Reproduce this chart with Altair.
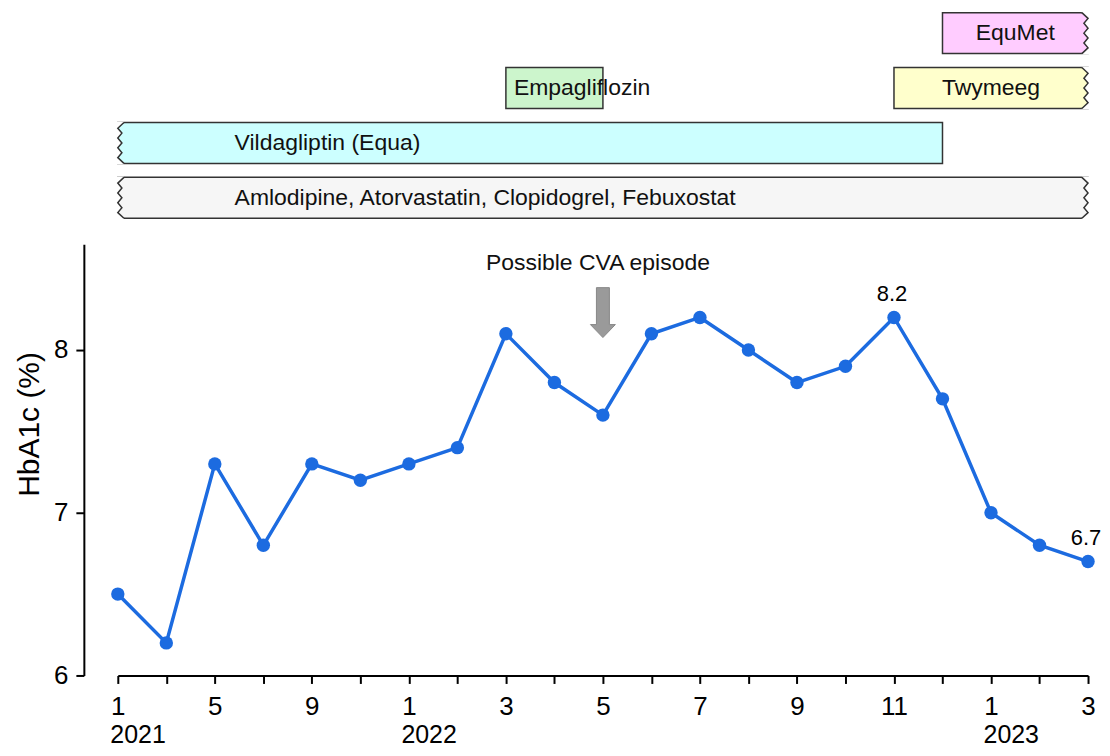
import altair as alt
import pandas as pd

# ---------------- data ----------------
# measurement positions (equally spaced on the axis) and their month / year
point_pos = list(range(21))
point_month = [1, 3, 5, 7, 9, 11, 1, 2, 3, 4, 5, 6, 7, 8, 9, 10, 11, 12, 1, 2, 3]
point_year = [2021] * 6 + [2022] * 12 + [2023] * 3
hba1c = [6.5, 6.2, 7.3, 6.8, 7.3, 7.2, 7.3, 7.4, 8.1, 7.8, 7.6,
         8.1, 8.2, 8.0, 7.8, 7.9, 8.2, 7.7, 7.0, 6.8, 6.7]

# tick labels shown under the axis
x_tick_labels = ["1", "", "5", "", "9", "", "1", "", "3", "", "5",
                 "", "7", "", "9", "", "11", "", "1", "", "3"]
year_label_pos = [0, 6, 18]
year_label_text = ["2021", "2022", "2023"]

y_ticks = [6, 7, 8]

# annotated values
labeled_pos = [16, 20]

# possible CVA episode annotation
cva_pos = [10]
cva_arrow_level = [8.23]
cva_text_level = [8.535]
cva_text = ["Possible CVA episode"]

# medication bars
drug_names = ["EquMet", "Twymeeg", "Empagliflozin", "Vildagliptin (Equa)",
              "Amlodipine, Atorvastatin, Clopidogrel, Febuxostat"]
drug_row = [0, 1, 1, 2, 3]
drug_start = [17, 16, 8, 0, 0]
drug_end = [20, 20, 10, 17, 20]
drug_fill = ["#ffccff", "#ffffcc", "#ccf5cc", "#ccffff", "#f6f6f6"]
drug_cont_before = [False, False, False, True, True]
drug_cont_after = [True, True, False, False, True]
drug_label_mode = ["center", "center", "start", "inset", "inset"]

# ---------------- tables ----------------
hb = pd.DataFrame({"pos": point_pos, "month": point_month,
                   "year": point_year, "hba1c": hba1c})
hb["label"] = hb["hba1c"].map(lambda v: f"{v:.1f}")
hb["show"] = hb["pos"].isin(labeled_pos)

drugs = pd.DataFrame({"name": drug_names, "row": drug_row,
                      "start": drug_start, "end": drug_end,
                      "fill": drug_fill, "before": drug_cont_before,
                      "after": drug_cont_after, "mode": drug_label_mode})

cva = pd.DataFrame({"pos": cva_pos, "arrow": cva_arrow_level,
                    "tlevel": cva_text_level, "text": cva_text})

BLUE = "#1c6be0"
DARK = "#333333"
FONT = "Liberation Sans"

xs = alt.Scale(domain=[0, 20], nice=False, zero=False)
ys = alt.Scale(domain=[6, 8.65], nice=False, zero=False)

# ---------------- top panel: medication bars ----------------
ys_top = alt.Scale(domain=[0, 1, 2, 3], paddingInner=14 / 55, paddingOuter=0)

LEFT_ZIG = "M0.3,-1 L0,-0.72 L0.2,-0.48 L0,-0.24 L0.2,0 L0,0.24 L0.2,0.48 L0,0.72 L0.3,1"
LEFT_COVER = ("M-0.3,-1.04 L0.3,-1.04 L0.3,-1 L0,-0.72 L0.2,-0.48 L0,-0.24 L0.2,0 "
              "L0,0.24 L0.2,0.48 L0,0.72 L0.3,1 L0.3,1.04 L-0.3,1.04 Z")
RIGHT_ZIG = "M-0.3,-1 L0,-0.72 L-0.2,-0.48 L0,-0.24 L-0.2,0 L0,0.24 L-0.2,0.48 L0,0.72 L-0.3,1"
RIGHT_COVER = ("M0.3,-1.04 L-0.3,-1.04 L-0.3,-1 L0,-0.72 L-0.2,-0.48 L0,-0.24 L-0.2,0 "
               "L0,0.24 L-0.2,0.48 L0,0.72 L-0.3,1 L-0.3,1.04 L0.3,1.04 Z")
SYM = 41 * 41

base_top = alt.Chart(drugs).encode(y=alt.Y("row:O", scale=ys_top, axis=None))

rects = base_top.mark_rect(stroke=DARK, strokeWidth=1.5).encode(
    x=alt.X("start:Q", scale=xs, axis=None),
    x2="end:Q",
    fill=alt.Fill("fill:N", scale=None),
)

left_cover = base_top.transform_filter("datum.before").mark_point(
    shape=LEFT_COVER, filled=True, color="white", strokeWidth=0, size=SYM, opacity=1
).encode(x=alt.X("start:Q", scale=xs, axis=None))
left_zig = base_top.transform_filter("datum.before").mark_point(
    shape=LEFT_ZIG, filled=False, color=DARK, strokeWidth=1.5, size=SYM, opacity=1
).encode(x=alt.X("start:Q", scale=xs, axis=None))
right_cover = base_top.transform_filter("datum.after").mark_point(
    shape=RIGHT_COVER, filled=True, color="white", strokeWidth=0, size=SYM, opacity=1
).encode(x=alt.X("end:Q", scale=xs, axis=None))
right_zig = base_top.transform_filter("datum.after").mark_point(
    shape=RIGHT_ZIG, filled=False, color=DARK, strokeWidth=1.5, size=SYM, opacity=1
).encode(x=alt.X("end:Q", scale=xs, axis=None))

txt_center = base_top.transform_filter("datum.mode == 'center'").transform_calculate(
    mid="(datum.start + datum.end) / 2"
).mark_text(fontSize=23, color="#111", align="center", baseline="middle").encode(
    x=alt.X("mid:Q", scale=xs, axis=None), text="name:N")
txt_start = base_top.transform_filter("datum.mode == 'start'").mark_text(
    fontSize=23, color="#111", align="left", baseline="middle", dx=8).encode(
    x=alt.X("start:Q", scale=xs, axis=None), text="name:N")
txt_inset = base_top.transform_filter("datum.mode == 'inset'").mark_text(
    fontSize=23, color="#111", align="left", baseline="middle", dx=117).encode(
    x=alt.X("start:Q", scale=xs, axis=None), text="name:N")

top = alt.layer(rects, left_cover, right_cover, left_zig, right_zig,
                txt_center, txt_start, txt_inset).properties(width=972, height=206)

# ---------------- bottom panel: HbA1c ----------------
month_expr = "[" + ",".join(f"'{t}'" for t in x_tick_labels) + "][datum.value]"
year_expr = "''"
for p, t in zip(reversed(year_label_pos), reversed(year_label_text)):
    year_expr = f"datum.value == {p} ? '{t}' : ({year_expr})"

month_axis = alt.Axis(values=point_pos, labelExpr=month_expr, orient="bottom",
                      tickSize=8, tickWidth=2, tickColor="black",
                      domainWidth=2, domainColor="black", grid=False, title=None,
                      labelFontSize=26, labelColor="black", labelPadding=10,
                      labelFlush=False, labelOverlap=False)
year_axis = alt.Axis(values=year_label_pos, labelExpr=year_expr, orient="bottom",
                     ticks=False, tickSize=0, domain=False, grid=False, title=None,
                     labelFontSize=25, labelColor="black", labelAlign="left",
                     labelOffset=-8, labelPadding=47, labelFlush=False,
                     labelOverlap=False)
y_axis = alt.Axis(values=y_ticks, format="d", offset=34, tickSize=8, tickWidth=2,
                  tickColor="black", domainWidth=2, domainColor="black",
                  grid=False, labelFontSize=26, labelColor="black", labelPadding=8,
                  title="HbA1c (%)", titleFontSize=30, titleFontWeight="normal",
                  titleColor="black", titlePadding=9, titleY=180)

line = alt.Chart(hb).mark_line(color=BLUE, strokeWidth=3.5).encode(
    x=alt.X("pos:Q", scale=xs, axis=month_axis),
    y=alt.Y("hba1c:Q", scale=ys, axis=y_axis),
)
pts = alt.Chart(hb).mark_point(filled=True, size=180, opacity=1, color=BLUE).encode(
    x=alt.X("pos:Q", scale=xs, axis=year_axis),
    y=alt.Y("hba1c:Q", scale=ys),
)
vals = alt.Chart(hb).transform_filter("datum.show").mark_text(
    fontSize=22, color="black", baseline="middle", dy=-24, dx=-2).encode(
    x=alt.X("pos:Q", scale=xs, axis=None), y=alt.Y("hba1c:Q", scale=ys),
    text="label:N")

ARROW = "M-0.26,-1 L0.26,-1 L0.26,0.48 L0.5,0.48 L0,1 L-0.5,0.48 L-0.26,0.48 Z"
arrow = alt.Chart(cva).mark_point(shape=ARROW, filled=True, color="#9a9a9a",
                                  stroke="#888888", strokeWidth=1, size=2500,
                                  opacity=1).encode(
    x=alt.X("pos:Q", scale=xs, axis=None), y=alt.Y("arrow:Q", scale=ys))
cva_txt = alt.Chart(cva).mark_text(fontSize=23, color="#111", baseline="middle",
                                   dx=-5).encode(
    x=alt.X("pos:Q", scale=xs, axis=None), y=alt.Y("tlevel:Q", scale=ys),
    text="text:N")

bottom = alt.layer(line, pts, vals, arrow, cva_txt).resolve_axis(
    x="independent").properties(width=972, height=432)

chart = alt.vconcat(top, bottom, spacing=23).properties(
    padding={"left": 6, "top": 1, "right": 0, "bottom": 0}
).configure(font=FONT).configure_view(stroke=None)

chart.save("out.html", embed_options={"renderer": "svg", "actions": False})
